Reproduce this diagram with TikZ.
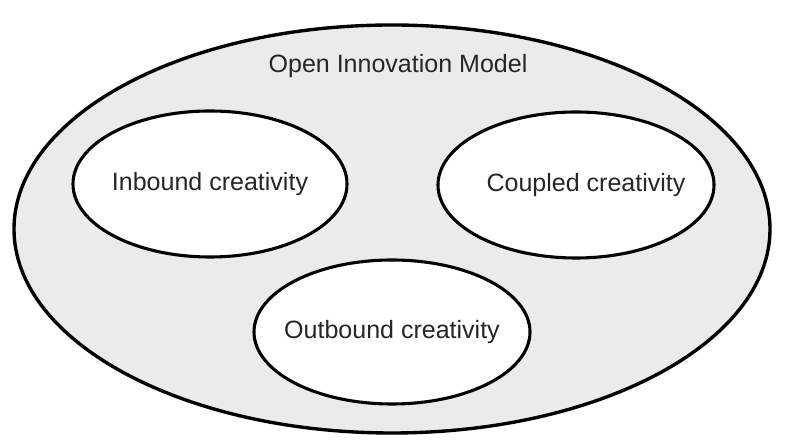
\documentclass[tikz,border=0pt]{standalone}
\usepackage{fontspec}
\setmainfont{Liberation Sans}
\usepackage{tikz}
\usetikzlibrary{shapes.geometric}
\definecolor{modelgray}{RGB}{235,235,235}

\begin{document}
\begin{tikzpicture}[
    every node/.style={font=\fontsize{17.8pt}{21pt}\selectfont, text=black!85},
    region/.style={ellipse, draw=black, line width=2.2pt, fill=white,
                   inner xsep=-1.5cm, inner ysep=0pt,
                   minimum width=6.9cm, minimum height=3.65cm}
  ]
    \useasboundingbox (0cm,0cm) rectangle (20cm,11.125cm);
    \node[ellipse, draw=black, line width=2.4pt, fill=modelgray,
          minimum width=18.9cm, minimum height=10.2cm] (model) at (9.8cm,5.4cm) {};
    \node (title) at (9.95cm,9.475cm) {Open Innovation Model};
    \node[region, minimum width=6.85cm] (inbound)  at ( 5.25cm,6.525cm) {Inbound creativity};
    \node[region] (coupled)  at (14.4cm,6.5cm) {\hspace*{0.5cm}Coupled creativity};
    \node[region, minimum height=3.6cm] (outbound) at ( 9.8cm,2.825cm) {Outbound creativity};
  \end{tikzpicture}
\end{document}
